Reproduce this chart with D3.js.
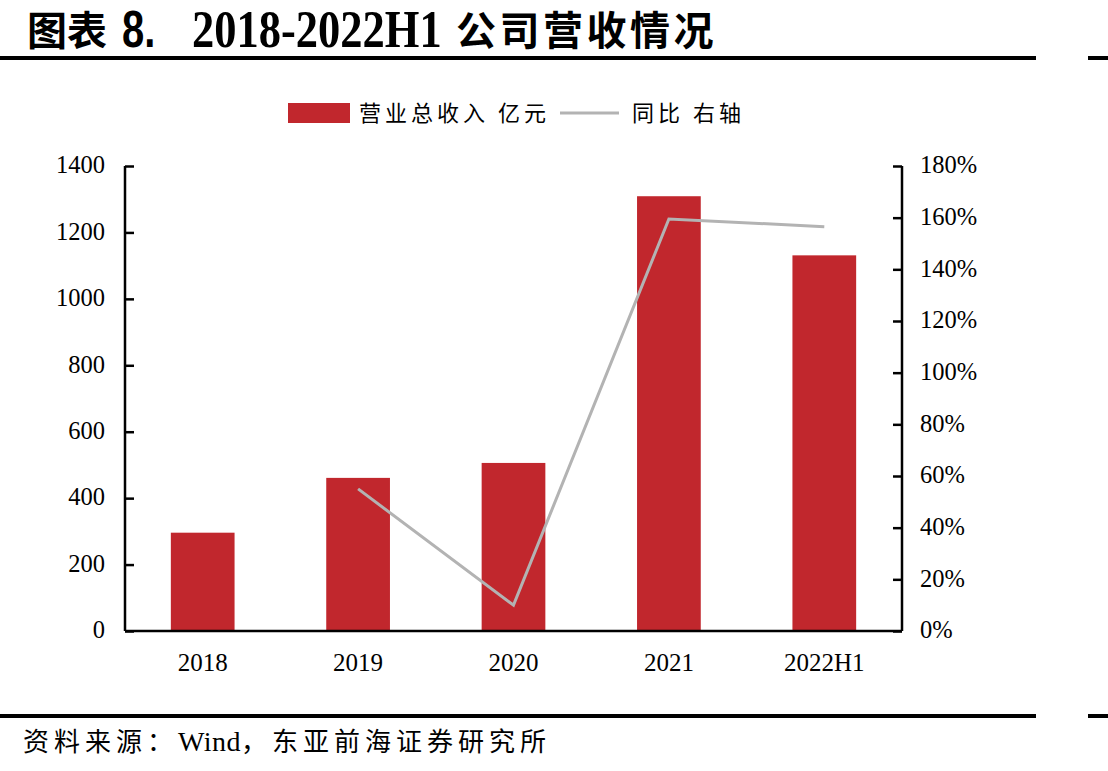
<!DOCTYPE html>
<html>
<head>
<meta charset="utf-8">
<script src="https://cdn.jsdelivr.net/npm/d3@7"></script>
<style>
  body { margin: 0; background: #fff; }
  svg text { fill: #000; }
</style>
</head>
<body>
<div id="chart"></div>
<script>
// Data
// ==============================
var years = ["2018", "2019", "2020", "2021", "2022H1"];
var revenue = [296, 461, 506, 1309, 1131];          // 营业总收入 亿元
var growth = [null, 0.55, 0.10, 1.595, 1.565];      // 同比 右轴
var leftTicks = [0, 200, 400, 600, 800, 1000, 1200, 1400];
var rightTicks = [0, 0.2, 0.4, 0.6, 0.8, 1.0, 1.2, 1.4, 1.6, 1.8];

var svgWidth = 1108;
var svgHeight = 771;

var margin = { top: 166, right: 206, bottom: 140, left: 125 };
var width = svgWidth - margin.left - margin.right;
var height = svgHeight - margin.top - margin.bottom;

var serif = "'Liberation Serif', 'Times New Roman', serif";
var sans = "'Liberation Sans', Arial, sans-serif";
var cjk = "'Noto Sans CJK SC', sans-serif";
var barColor = "#c1272d";
var lineColor = "#b3b3b3";

var svg = d3.select("#chart")
  .append("svg")
  .attr("width", svgWidth)
  .attr("height", svgHeight);

// Title + rules
// ==============================
svg.append("text")
  .attr("x", 27).attr("y", 45)
  .attr("font-family", cjk).attr("font-size", 40).attr("font-weight", "bold")
  .text("图表");
svg.append("g").attr("transform", "translate(122,47) scale(1,1.3)")
  .append("text")
  .attr("font-family", sans).attr("font-size", 40).attr("font-weight", "bold")
  .text("8.");
svg.append("g").attr("transform", "translate(192,47) scale(1,1.2)")
  .append("text")
  .attr("font-family", serif).attr("font-size", 44.5).attr("font-weight", "bold")
  .text("2018-2022H1");
svg.append("text")
  .attr("x", 456).attr("y", 45)
  .attr("font-family", cjk).attr("font-size", 40).attr("font-weight", "bold")
  .attr("letter-spacing", 3.5)
  .text("公司营收情况");

[58, 716].forEach(function(y) {
  svg.append("rect").attr("x", 0).attr("y", y - 2).attr("width", 1036).attr("height", 4).attr("fill", "#000");
  svg.append("rect").attr("x", 1088).attr("y", y - 2).attr("width", 20).attr("height", 4).attr("fill", "#000");
});

var foot = svg.append("text")
  .attr("x", 23)
  .attr("y", 751)
  .attr("font-size", 26)
  .attr("letter-spacing", 5);
foot.append("tspan").attr("font-family", cjk).text("资料来源：");
foot.append("tspan").attr("font-family", serif).attr("font-size", 28).attr("letter-spacing", 0.5).text("Wind");
foot.append("tspan").attr("font-family", cjk).text("，东亚前海证券研究所");

// Legend
// ==============================
svg.append("rect")
  .attr("x", 288).attr("y", 103)
  .attr("width", 62).attr("height", 20)
  .attr("fill", barColor);
svg.append("text")
  .attr("x", 359).attr("y", 121)
  .attr("font-family", cjk).attr("font-size", 22)
  .attr("letter-spacing", 4)
  .attr("fill", "#222")
  .text("营业总收入 亿元");
svg.append("line")
  .attr("x1", 560).attr("x2", 619)
  .attr("y1", 113).attr("y2", 113)
  .attr("stroke", lineColor).attr("stroke-width", 3);
svg.append("text")
  .attr("x", 632).attr("y", 121)
  .attr("font-family", cjk).attr("font-size", 22)
  .attr("letter-spacing", 4)
  .attr("fill", "#222")
  .text("同比 右轴");

var chartGroup = svg.append("g")
  .attr("transform", `translate(${margin.left}, ${margin.top})`);

// Scales
// ==============================
var xScale = d3.scaleBand()
  .domain(years)
  .range([0, width])
  .paddingInner(0.59)
  .paddingOuter(0.295);

var xPoint = d3.scalePoint()
  .domain(years)
  .range([0, width])
  .padding(0.5);

var yLeft = d3.scaleLinear().domain([0, 1400]).range([height, 0]);
var yRight = d3.scaleLinear().domain([0, 1.8]).range([height, 0]);

// Bars
// ==============================
chartGroup.selectAll("rect.bar")
  .data(years)
  .enter()
  .append("rect")
  .attr("class", "bar")
  .attr("x", d => xScale(d))
  .attr("width", xScale.bandwidth())
  .attr("y", (d, i) => yLeft(revenue[i]))
  .attr("height", (d, i) => height - yLeft(revenue[i]))
  .attr("fill", barColor);

// Line
// ==============================
var lineData = years.map((d, i) => ({ year: d, v: growth[i] })).filter(d => d.v !== null);
chartGroup.append("path")
  .datum(lineData)
  .attr("fill", "none")
  .attr("stroke", lineColor)
  .attr("stroke-width", 3)
  .attr("d", d3.line().x(d => xPoint(d.year)).y(d => yRight(d.v)));

// Axes
// ==============================
var leftAxis = d3.axisRight(yLeft).tickValues(leftTicks).tickSize(9).tickFormat("");
var rightAxis = d3.axisLeft(yRight).tickValues(rightTicks).tickSize(9).tickFormat("");
var bottomAxis = d3.axisBottom(xScale).tickSize(0);

function styleAxis(g) {
  g.select(".domain").attr("stroke", "#000").attr("stroke-width", 2.5);
  g.selectAll(".tick line").attr("stroke", "#000").attr("stroke-width", 2.5);
}

chartGroup.append("g").call(leftAxis).call(styleAxis)
  .select(".domain").attr("d", `M0,0V${height}`);
chartGroup.append("g").attr("transform", `translate(${width},0)`).call(rightAxis).call(styleAxis)
  .select(".domain").attr("d", `M0,0V${height}`);

var bx = chartGroup.append("g")
  .attr("transform", `translate(0,${height})`)
  .call(bottomAxis)
  .call(styleAxis);
bx.select(".domain").attr("d", `M0,0H${width}`);
bx.selectAll(".tick text")
  .attr("font-family", serif)
  .attr("font-size", 25)
  .attr("fill", "#111")
  .attr("y", 22)
  .attr("dy", "0.71em");

// Tick labels
// ==============================
chartGroup.selectAll("text.lt")
  .data(leftTicks)
  .enter()
  .append("text")
  .attr("class", "lt")
  .attr("x", -20)
  .attr("y", d => yLeft(d))
  .attr("dy", "0.3em")
  .attr("text-anchor", "end")
  .attr("font-family", serif)
  .attr("font-size", 24.5)
  .text(d => d);

chartGroup.selectAll("text.rt")
  .data(rightTicks)
  .enter()
  .append("text")
  .attr("class", "rt")
  .attr("x", width + 18)
  .attr("y", d => yRight(d))
  .attr("dy", "0.3em")
  .attr("font-family", serif)
  .attr("font-size", 24.5)
  .text(d => Math.round(d * 100) + "%");
</script>
</body>
</html>
